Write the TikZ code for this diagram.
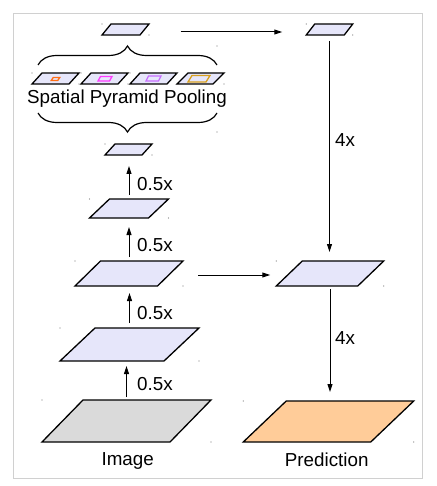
\documentclass[tikz,border=0pt]{standalone}
\usepackage{fontspec}
\setmainfont{Liberation Sans}
\usetikzlibrary{arrows.meta,decorations.pathreplacing}
\definecolor{lav}{RGB}{230,230,250}
\definecolor{imggray}{RGB}{218,218,218}
\definecolor{peach}{RGB}{255,204,153}
\definecolor{framec}{RGB}{208,208,208}
\definecolor{sppor}{RGB}{255,110,20}
\definecolor{sppmag}{RGB}{255,60,255}
\definecolor{sppvio}{RGB}{200,110,255}
\definecolor{sppgold}{RGB}{215,160,30}
\definecolor{dotc}{RGB}{120,120,120}
\tikzset{
  pgbox/.style={inner sep=0pt,outer sep=0pt,draw=none},
  pgline/.style={draw=black,line width=1.3pt,line join=miter},
  ipline/.style={line width=1.3pt},
  arr/.style={-{Triangle[length=8pt,width=5pt]},line width=1pt},
  lbl/.style={inner sep=0pt,font=\fontsize{18.8}{22}\selectfont},
  bracec/.style={decorate,decoration={brace,amplitude=19pt},line width=1.2pt},
}
\newcommand\pgram[7]{%
  \node[pgbox,minimum width={#4+#5},minimum height={#6}] (#1) at (#2,#3) {};
  \draw[pgline,fill=#7] (#1.south west) -- ++(#4,0) -- (#1.north east) -- ++(-#4,0) -- cycle;
  \fill[dotc] (#1.north west) circle (0.6);
  \fill[dotc] (#1.south east) circle (0.6);
}
\newcommand\ipgram[7]{%
  \node[pgbox,minimum width={#4+#5},minimum height={#6}] (#1) at (#2,#3) {};
  \draw[ipline,draw=#7] (#1.south west) -- ++(#4,0) -- (#1.north east) -- ++(-#4,0) -- cycle;
}
\begin{document}
\begin{tikzpicture}[x=1pt,y=-1pt]
\useasboundingbox (0,0) rectangle (436,486);
\draw[framec,line width=1pt] (13,14) rectangle (422,478);

% left column
\pgram{T1}{125.5}{29.5}{38}{9}{11}{lav}
\pgram{P1}{128.5}{149.5}{37}{10}{11}{lav}
\pgram{P2}{129}{208.5}{59}{20}{19}{lav}
\pgram{P3}{129}{273.5}{82.5}{25.5}{25}{lav}
\pgram{P4}{129.5}{344.5}{104}{35}{33}{lav}
\pgram{img}{126.5}{421}{128}{41}{42}{imggray}

% right column
\pgram{T2}{329.5}{29.5}{38}{8.5}{11}{lav}
\pgram{R2}{330}{273.5}{81.5}{26}{25}{lav}
\pgram{pred}{328.5}{421.5}{127.5}{43}{41}{peach}

% spatial pyramid pooling
\pgram{S1}{55.5}{78.5}{37}{10}{11}{lav}
\pgram{S2}{104.5}{78.5}{37}{10}{11}{lav}
\pgram{S3}{153.5}{78.5}{37}{10}{11}{lav}
\pgram{S4}{200.5}{78.5}{36}{11}{11}{lav}
\ipgram{I1}{55.5}{79}{6.5}{2}{3}{sppor}
\ipgram{I2}{105}{78.75}{11.5}{2.5}{4.5}{sppmag}
\ipgram{I3}{153.5}{78.5}{12.5}{2.5}{5}{sppvio}
\ipgram{I4}{199}{78.75}{18}{4}{6.5}{sppgold}

\node[lbl] (spp) at (127,99) {Spatial Pyramid Pooling};
\coordinate (b1l) at (38,65);
\coordinate (b1r) at (217,65);
\coordinate (b2l) at (38,113);
\coordinate (b2r) at (217,113);
\draw[bracec] (b1l) -- (b1r);
\draw[bracec] (b2r) -- (b2l);
\fill[dotc] (217,46) circle (0.6);
\fill[dotc] (217,132) circle (0.6);

% up arrows
\draw[arr,shorten <=4pt,shorten >=11pt] (P2.north) -- (P2.north |- P1.south);
\draw[arr,shorten <=4pt,shorten >=9pt] (P3.north) -- (P3.north |- P2.south);
\draw[arr,shorten <=5pt,shorten >=7pt] (P4.north) -- (P4.north |- P3.south);
\draw[arr,shorten <=3pt,shorten >=5pt] (img.north) -- (img.north |- P4.south);
\node[lbl,anchor=west] (l1) at (137,184) {0.5x};
\node[lbl,anchor=west] (l2) at (137,245) {0.5x};
\node[lbl,anchor=west] (l3) at (137,313) {0.5x};
\node[lbl,anchor=west] (l4) at (137,384) {0.5x};

% down arrows
\draw[arr,shorten <=6pt,shorten >=9pt] (T2.south) -- (T2.south |- R2.north);
\draw[arr,shorten <=3pt,shorten >=9pt] (R2.south) -- (R2.south |- pred.north);
\node[lbl,anchor=west] (l5) at (335,140) {4x};
\node[lbl,anchor=west] (l6) at (335,338) {4x};

% horizontal arrows
\draw[arr] ([shift={(31.5,2.5)}]T1.east) -- ([shift={(-24,2.5)}]T2.west);
\draw[arr] ([shift={(15,1.5)}]P3.east) -- ([shift={(-6,1.5)}]R2.west);

% captions
\node[lbl] (imgl) at (127.7,461) {Image};
\node[lbl] (predl) at (326.7,460) {Prediction};
\end{tikzpicture}
\end{document}
